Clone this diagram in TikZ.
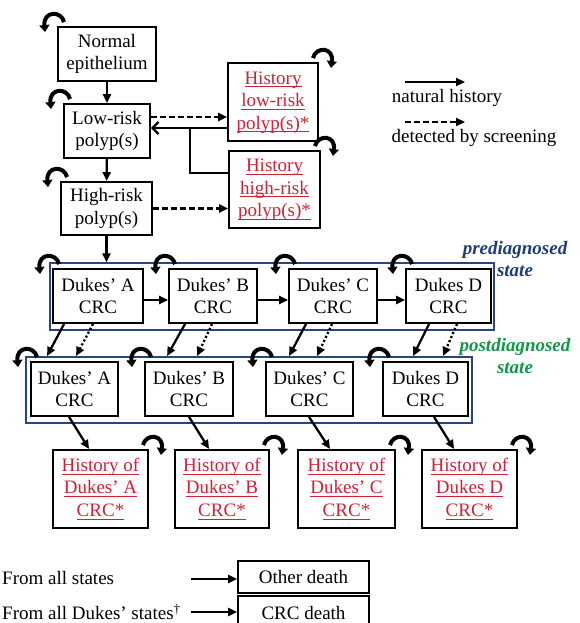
\documentclass[tikz,border=0pt]{standalone}
\usepackage{fontspec}
\setmainfont{Liberation Serif}
\usetikzlibrary{arrows.meta,calc}
\definecolor{boxblue}{RGB}{40,70,125}
\definecolor{preblue}{RGB}{30,60,120}
\definecolor{postgreen}{RGB}{20,150,70}
\definecolor{histred}{RGB}{205,35,55}
\newcommand\hul[1]{\leavevmode\vtop{\hbox{\raisebox{0pt}[\height][0pt]{#1}}\kern2.2pt\hrule height 1.2pt}}
\begin{document}
\begin{tikzpicture}[x=1pt,y=-1pt,
  txt/.style={font=\fontsize{19}{22.5}\selectfont, inner sep=0pt, align=center},
  state/.style={txt, draw, line width=1.9pt, fill=white},
  hist/.style={state, text=histred},
  group/.style={draw=boxblue, line width=1.4pt, inner sep=0pt},
  arr/.style={line width=2.3pt, -{Triangle[length=9pt,width=8pt]}},
  darr/.style={arr, dash pattern=on 6pt off 3pt},
  dotarr/.style={arr, dash pattern=on 2.2pt off 2.2pt},
  loopst/.style={line width=4pt, -{Triangle[length=7pt,width=10pt]}},
  leftloop/.pic={\draw[loopst] (7,-4) .. controls (4,-16) and (-14,-15) .. (-12,6);},
  rightloop/.pic={\draw[loopst] (-6,-4) .. controls (-3,-16) and (15,-15) .. (12,6);},
]
\path[use as bounding box] (0,0) rectangle (580,623);
\clip (0,0) rectangle (580,623);

% groups
\node[group, minimum width=444pt, minimum height=67pt] (pre) at (272,296.5) {};
\node[group, minimum width=446pt, minimum height=66pt] (post) at (249,390) {};

% top states
\node[state, minimum width=98pt, minimum height=54pt] (ne) at (107,54) {Normal\\epithelium};
\node[state, minimum width=86pt, minimum height=54pt] (lr) at (107,131) {Low-risk\\polyp(s)};
\node[state, minimum width=91pt, minimum height=53pt] (hr) at (106.5,208.5) {High-risk\\polyp(s)};
\node[hist, minimum width=90pt, minimum height=78pt] (hlr) at (273,102) {\hul{History}\\\hul{low-risk}\\\hul{polyp(s)*}};
\node[hist, minimum width=91pt, minimum height=77pt] (hhr) at (274.5,189.5) {\hul{History}\\\hul{high-risk}\\\hul{polyp(s)*}};

% prediagnosed row
\node[state, minimum width=90pt, minimum height=54pt] (A1) at (98,296) {Dukes' A\\CRC};
\node[state, minimum width=88pt, minimum height=54pt] (B1) at (213,296) {Dukes' B\\CRC};
\node[state, minimum width=88pt, minimum height=54pt] (C1) at (333,296) {Dukes' C\\CRC};
\node[state, minimum width=85pt, minimum height=54pt] (D1) at (448.5,296) {Dukes D\\CRC};

% postdiagnosed row
\node[state, minimum width=87pt, minimum height=54pt] (A2) at (74.5,389) {Dukes' A\\CRC};
\node[state, minimum width=88pt, minimum height=54pt] (B2) at (189,389) {Dukes' B\\CRC};
\node[state, minimum width=87pt, minimum height=54pt] (C2) at (309.5,389) {Dukes' C\\CRC};
\node[state, minimum width=85pt, minimum height=54pt] (D2) at (425.5,389) {Dukes D\\CRC};

% history row
\node[hist, minimum width=95pt, minimum height=78pt] (HA) at (100.5,489) {\hul{History of}\\\hul{Dukes' A}\\\hul{CRC*}};
\node[hist, minimum width=94pt, minimum height=78pt] (HB) at (222,489) {\hul{History of}\\\hul{Dukes' B}\\\hul{CRC*}};
\node[hist, minimum width=97pt, minimum height=78pt] (HC) at (346.5,489) {\hul{History of}\\\hul{Dukes' C}\\\hul{CRC*}};
\node[hist, minimum width=95pt, minimum height=78pt] (HD) at (469.5,489) {\hul{History of}\\\hul{Dukes D}\\\hul{CRC*}};

% group labels
\node[txt, font=\fontsize{19}{22}\selectfont\bfseries\itshape, text=preblue] (prel) at (515,259) {prediagnosed\\state};
\node[txt, font=\fontsize{19}{22}\selectfont\bfseries\itshape, text=postgreen] (postl) at (515,356) {postdiagnosed\\state};

% legend top
\coordinate (nh1) at (405,82); \coordinate (nh2) at (465,82);
\draw[arr] (nh1) -- (nh2);
\node[txt] (nhl) at (447,98) {natural history};
\coordinate (ds1) at (405,122); \coordinate (ds2) at (465,122);
\draw[darr] (ds1) -- (ds2);
\node[txt] (dsl) at (474,138) {detected by screening};

% legend bottom
\node[txt, anchor=west] (fa) at (2,578) {From all states};
\node[txt, anchor=west] (fd) at (2,612) {From all Dukes' states\textsuperscript{†}};
\node[state, minimum width=131pt, minimum height=32pt] (od) at (303.5,577) {Other death};
\node[state, minimum width=131pt, minimum height=34pt] (cd) at (303.5,613) {CRC death};
\coordinate (l1) at (191,579); \draw[arr] (l1) -- (l1 -| od.west);
\coordinate (l2) at (191,612); \draw[arr, line width=2.9pt] (l2) -- (l2 -| cd.west);

% top arrows
\draw[arr] (ne) -- (lr);
\draw[arr] (lr) -- (hr);
\draw[arr] (hr.south) -- (hr.south |- pre.north);
\draw[darr] ([yshift=14pt]lr.east) -- ([yshift=14pt]lr.east -| hlr.west);
\coordinate (j1) at (190,128); \coordinate (j2) at (190,173);
\draw[line width=2.3pt, -{Straight Barb[length=6pt,width=12pt]}] (hlr.west |- j1) -- (lr.east |- j1);
\draw[line width=2.3pt] (hhr.west |- j2) -- (j2) -- (j1);
\draw[darr] (hr.east) -- (hr.east -| hhr.west);

% prediagnosed progression
\draw[arr] ([yshift=-4pt]A1.east) -- ([yshift=-4pt]A1.east -| B1.west);
\draw[arr] ([yshift=-4pt]B1.east) -- ([yshift=-4pt]B1.east -| C1.west);
\draw[arr] ([yshift=-4pt]C1.east) -- ([yshift=-4pt]C1.east -| D1.west);

% diagnosis arrows
\draw[arr] ([xshift=12pt]A1.south west) -- ([xshift=17pt,yshift=5pt]A2.north west);
\draw[dotarr] ([xshift=41pt]A1.south west) -- ([xshift=46pt,yshift=5pt]A2.north west);
\draw[arr] ([xshift=17pt]B1.south west) -- ([xshift=23pt,yshift=5pt]B2.north west);
\draw[dotarr] ([xshift=44pt]B1.south west) -- ([xshift=53pt,yshift=5pt]B2.north west);
\draw[arr] ([xshift=18pt]C1.south west) -- ([xshift=24pt,yshift=5pt]C2.north west);
\draw[dotarr] ([xshift=44pt]C1.south west) -- ([xshift=52pt,yshift=5pt]C2.north west);
\draw[arr] ([xshift=24pt]D1.south west) -- ([xshift=31pt,yshift=5pt]D2.north west);
\draw[dotarr] ([xshift=52pt]D1.south west) -- ([xshift=61pt,yshift=5pt]D2.north west);

% to history
\draw[arr] ([xshift=39pt]A2.south west) -- ([xshift=37pt]HA.north west);
\draw[arr] ([xshift=45pt]B2.south west) -- ([xshift=35pt]HB.north west);
\draw[arr] ([xshift=44pt]C2.south west) -- ([xshift=33pt]HC.north west);
\draw[arr] ([xshift=52pt]D2.south west) -- ([xshift=33pt]HD.north west);

% self loops
\foreach \n in {ne,lr,hr,A1,B1,C1,D1,A2,B2,C2,D2} {\pic at (\n.north west) {leftloop};}
\foreach \n in {hlr,hhr,HA,HB,HC,HD} {\pic at (\n.north east) {rightloop};}
\end{tikzpicture}
\end{document}
